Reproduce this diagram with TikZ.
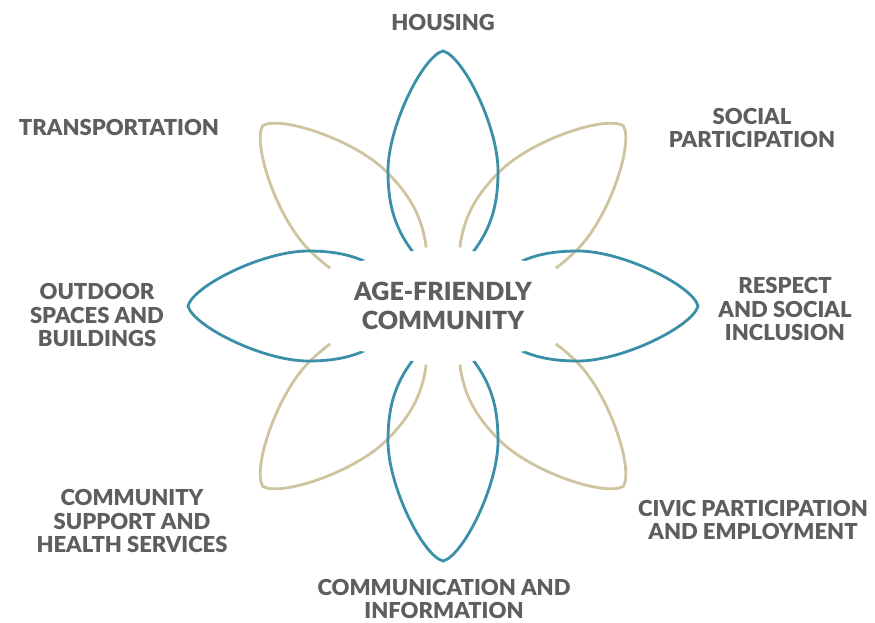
\documentclass[tikz,border=0pt]{standalone}
\usepackage{fontspec}
\setmainfont{Lato}[BoldFont={Lato Black}]
\definecolor{tealc}{HTML}{3B8FA8}
\definecolor{sandc}{HTML}{CFC4A0}
\definecolor{txtc}{HTML}{5E5E5E}
\tikzset{
  petalline/.style={line width=2.8pt},
  petalpic/.pic={
    \draw[pic actions] (0,0) .. controls (15,6) and (38,18) .. (54,30)
      .. controls (80,50) and (105,55) .. (135,55)
      .. controls (180,55) and (250,20) .. (255,0)
      .. controls (250,-20) and (180,-55) .. (135,-55)
      .. controls (105,-55) and (80,-50) .. (54,-30)
      .. controls (38,-18) and (15,-6) .. (0,0);
  },
  lbl/.style={font=\bfseries\fontsize{22}{23.5}\selectfont, text=txtc, align=center, inner sep=0pt},
  ctr/.style={font=\bfseries\fontsize{25}{29}\selectfont, text=txtc, align=center, inner sep=0pt}
}
\begin{document}
\begin{tikzpicture}[x=1pt,y=-1pt]
\useasboundingbox (0,0) rectangle (875,622);
\coordinate (c) at (443,306);
% beige diagonal petals
\foreach \a in {45,135,225,315}
  \pic[petalline, draw=sandc, rotate=\a] at (c) {petalpic};
% teal orthogonal petals
\foreach \a in {0,90,180,270}
  \pic[petalline, draw=tealc, rotate=\a] at (c) {petalpic};
% central white mask
\fill[white, shift={(443,306)}] plot[smooth cycle, tension=0.6] coordinates {
  (0,-62) (30,-55) (82,-45) (111,-40) (124,0) (111,40) (82,45) (30,55)
  (0,62) (-30,55) (-82,45) (-111,40) (-124,0) (-111,-40) (-82,-45) (-30,-55)};
% texts
\node[ctr] (center) at (443,306) {AGE-FRIENDLY\\COMMUNITY};
\node[lbl] (housing) at (443,22) {HOUSING};
\node[lbl] (social) at (752,128) {SOCIAL\\PARTICIPATION};
\node[lbl] (transport) at (119,127) {TRANSPORTATION};
\node[lbl] (respect) at (785,309) {RESPECT\\AND SOCIAL\\INCLUSION};
\node[lbl] (outdoor) at (97,315) {OUTDOOR\\SPACES AND\\BUILDINGS};
\node[lbl] (support) at (132,521) {COMMUNITY\\SUPPORT AND\\HEALTH SERVICES};
\node[lbl] (civic) at (753,520) {CIVIC PARTICIPATION\\AND EMPLOYMENT};
\node[lbl] (comm) at (444,599) {COMMUNICATION AND\\INFORMATION};
\end{tikzpicture}
\end{document}
